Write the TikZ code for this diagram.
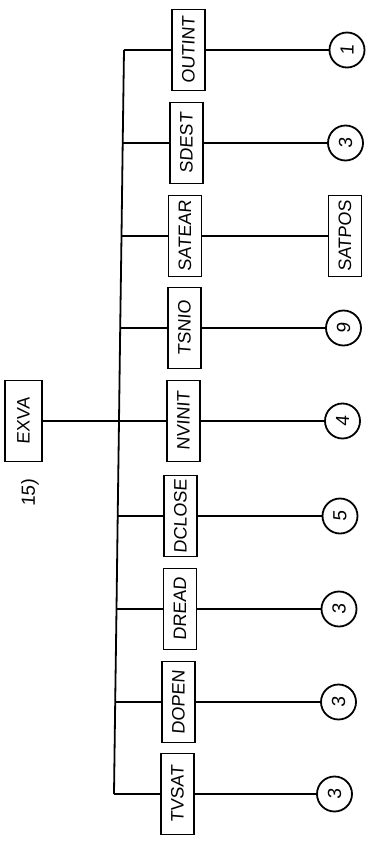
\documentclass[tikz,border=0pt]{standalone}
\usepackage{fontspec}
\setmainfont{Liberation Sans}[FakeSlant=0.08]
\begin{document}
\begin{tikzpicture}[x=1pt,y=-1pt,line width=1.8pt,
  box/.style={draw,rotate=90,minimum width=81pt,minimum height=33pt,inner sep=0pt,font=\fontsize{18}{20}\selectfont},
  num/.style={draw,circle,rotate=90,minimum size=35pt,inner sep=0pt,font=\fontsize{19}{21}\selectfont}]
\useasboundingbox (0,0) rectangle (373,847);
% boxes
\node[box] (outint) at (188.5,50) {OUTINT};
\node[box] (sdest)  at (186.5,143) {SDEST};
\node[box] (satear) at (185,236) {SATEAR};
\node[box] (satpos) at (345,236) {SATPOS};
\node[box] (tsnio)  at (184.5,328) {TSNIO};
\node[box] (nvinit) at (183.5,421) {NVINIT};
\node[box,minimum height=37pt] (exva) at (23.5,421) {EXVA};
\node[box] (dclose) at (180.5,516) {DCLOSE};
\node[box] (dread)  at (180,609) {DREAD};
\node[box] (dopen)  at (178.5,702) {DOPEN};
\node[box] (tvsat)  at (177.5,794) {TVSAT};
% circles
\node[num] (c1) at (347,50) {1};
\node[num] (c2) at (345.5,143) {3};
\node[num] (c3) at (343.5,328) {9};
\node[num] (c4) at (342.5,421) {4};
\node[num] (c5) at (340,516) {5};
\node[num] (c6) at (339,609) {3};
\node[num] (c7) at (338.5,702) {3};
\node[num] (c8) at (334.5,794) {3};
% label
\node[rotate=90,font=\fontsize{19}{21}\selectfont] (lbl) at (30,493) {15)};
% bus joints
\coordinate (j1) at (124,50);
\coordinate (j2) at (122.7,143);
\coordinate (j3) at (121.5,236);
\coordinate (j4) at (120.2,328);
\coordinate (j5) at (119,421);
\coordinate (j6) at (117.7,516);
\coordinate (j7) at (116.5,609);
\coordinate (j8) at (115.2,702);
\coordinate (j9) at (114,794);
\draw (j1) -- (j2) -- (j3) -- (j4) -- (j5) -- (j6) -- (j7) -- (j8) -- (j9);
\draw (j1) -- (outint);
\draw (j2) -- (sdest);
\draw (j3) -- (satear);
\draw (j4) -- (tsnio);
\draw (j5) -- (nvinit);
\draw (j6) -- (dclose);
\draw (j7) -- (dread);
\draw (j8) -- (dopen);
\draw (j9) -- (tvsat);
\draw (exva) -- (j5);
\draw (outint) -- (c1);
\draw (sdest) -- (c2);
\draw (satear) -- (satpos);
\draw (tsnio) -- (c3);
\draw (nvinit) -- (c4);
\draw (dclose) -- (c5);
\draw (dread) -- (c6);
\draw (dopen) -- (c7);
\draw (tvsat) -- (c8);
\end{tikzpicture}
\end{document}
